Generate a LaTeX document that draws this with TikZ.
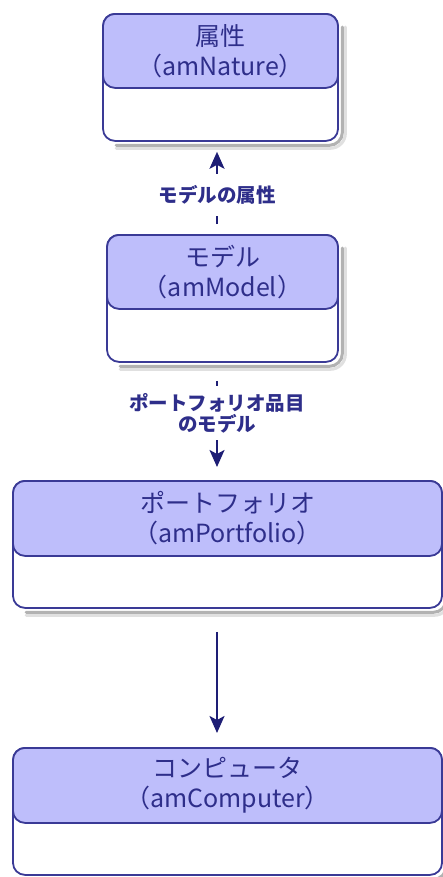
\documentclass[tikz,border=0pt]{standalone}
\usepackage{fontspec}
\setmainfont{Noto Sans CJK JP}
\usetikzlibrary{arrows.meta}
\definecolor{navy}{HTML}{3A3A96}
\definecolor{headfill}{HTML}{BEBEFB}
\definecolor{txt}{HTML}{2E2E8A}
\definecolor{arr}{HTML}{1E1E75}
\begin{document}
\begin{tikzpicture}[x=1bp,y=-1bp,
  boxbody/.style={draw=navy, line width=1.8bp, fill=white, rounded corners=12bp,
    minimum width=#1, minimum height=127bp, inner sep=0pt, anchor=north},
  boxhead/.style={draw=navy, line width=1.8bp, fill=headfill, rounded corners=12bp,
    minimum width=#1, minimum height=74bp, inner sep=0pt, anchor=north,
    text=txt, align=center, font=\fontsize{25bp}{30bp}\selectfont},
  conn/.style={draw=arr, line width=2.2bp, -{Stealth[length=17bp,width=15bp,inset=4bp]}},
  lab/.style={fill=white, text=txt, align=center, inner xsep=2bp,
    font=\bfseries\fontsize{19.5bp}{21bp}\selectfont},
  shadowedge/.style={draw=black!30, line width=3bp, rounded corners=13bp, line cap=round},
  shadowsoft/.style={draw=black!12, line width=3bp, rounded corners=15bp, line cap=round}
]
\useasboundingbox (0,0) rectangle (443,877);
\coordinate (axis) at (217,0);

\node[boxbody=235bp] (b1) at (220.5,13) {};
\node[boxhead=235bp] (h1) at (b1.north) {属性\\（amNature）};

\node[boxbody=231bp] (b2) at (222.5,234) {};
\node[boxhead=231bp] (h2) at (b2.north) {モデル\\（amModel）};

\node[boxbody=429bp] (b3) at (227.5,480) {};
\node[boxhead=429bp, minimum height=75bp] (h3) at (b3.north) {ポートフォリオ\\（amPortfolio）};

\node[boxbody=429bp] (b4) at (227.5,747) {};
\node[boxhead=429bp, minimum height=75bp] (h4) at (b4.north) {コンピュータ\\（amComputer）};

% drop shadow along the bottom and right edge of each box
\foreach \b in {b1,b2,b3,b4}{
  \draw[shadowsoft] ([shift={(14,6.5)}]\b.south west) -- ([shift={(6.5,6.5)}]\b.south east) -- ([shift={(6.5,14)}]\b.north east);
  \draw[shadowedge] ([shift={(14,3.5)}]\b.south west) -- ([shift={(3.5,3.5)}]\b.south east) -- ([shift={(3.5,14)}]\b.north east);
}

\draw[conn, shorten <=10bp, shorten >=10bp] (b2.north -| axis) -- (b1.south -| axis);
\draw[conn, shorten <=18bp, shorten >=13bp] (b2.south -| axis) -- (b3.north -| axis);
\draw[conn, shorten <=23bp, shorten >=14bp] (b3.south -| axis) -- (b4.north -| axis);

\node[lab, inner ysep=12bp] (l1) at (217,195) {モデルの属性};
\node[lab, inner ysep=7bp] (l2) at (217,413) {ポートフォリオ品目\\のモデル};
\end{tikzpicture}
\end{document}
